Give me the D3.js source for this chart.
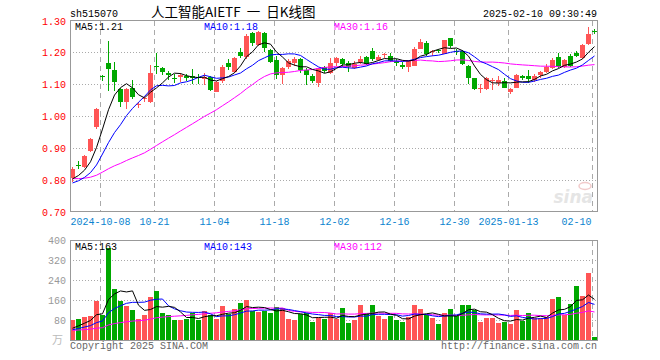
<!DOCTYPE html>
<html>
<head>
<meta charset="utf-8">
<script src="https://cdn.jsdelivr.net/npm/d3@7/dist/d3.min.js"></script>
<style>
body{margin:0;background:#fff;}
text{font-family:"Liberation Mono","DejaVu Sans Mono",monospace;font-size:10px;}
</style>
</head>
<body>
<div id="chart"></div>
<script>
////////////////////////////////////////
// data
////////////////////////////////////////

var dates = [
'2024-09-24','2024-09-25','2024-09-26','2024-09-27','2024-09-30',
'2024-10-08','2024-10-09','2024-10-10','2024-10-11','2024-10-14','2024-10-15','2024-10-16','2024-10-17','2024-10-18',
'2024-10-21','2024-10-22','2024-10-23','2024-10-24','2024-10-25','2024-10-28','2024-10-29','2024-10-30','2024-10-31',
'2024-11-01','2024-11-04','2024-11-05','2024-11-06','2024-11-07','2024-11-08','2024-11-11','2024-11-12','2024-11-13',
'2024-11-14','2024-11-15','2024-11-18','2024-11-19','2024-11-20','2024-11-21','2024-11-22','2024-11-25','2024-11-26',
'2024-11-27','2024-11-28','2024-11-29','2024-12-02','2024-12-03','2024-12-04','2024-12-05','2024-12-06','2024-12-09',
'2024-12-10','2024-12-11','2024-12-12','2024-12-13','2024-12-16','2024-12-17','2024-12-18','2024-12-19','2024-12-20',
'2024-12-23','2024-12-24','2024-12-25','2024-12-26','2024-12-27','2024-12-30','2024-12-31','2025-01-02','2025-01-03',
'2025-01-06','2025-01-07','2025-01-08','2025-01-09','2025-01-10','2025-01-13','2025-01-14','2025-01-15','2025-01-16',
'2025-01-17','2025-01-20','2025-01-21','2025-01-22','2025-01-23','2025-01-24','2025-01-27','2025-02-05','2025-02-06',
'2025-02-07','2025-02-10'];

var open = [0.808,0.846,0.840,0.890,0.967,1.127,1.166,1.146,1.084,1.046,1.090,1.034,1.053,1.046,
1.157,1.152,1.135,1.120,1.123,1.125,1.126,1.122,1.118,1.123,1.077,1.110,1.166,1.139,1.202,1.185,
1.261,1.223,1.261,1.207,1.176,1.128,1.154,1.168,1.180,1.144,1.126,1.105,1.154,1.136,1.168,1.180,
1.168,1.152,1.170,1.186,1.203,1.175,1.192,1.189,1.172,1.160,1.154,1.159,1.212,1.230,1.203,1.207,
1.196,1.244,1.203,1.204,1.159,1.120,1.085,1.084,1.111,1.104,1.110,1.077,1.090,1.127,1.127,1.113,
1.128,1.140,1.152,1.185,1.153,1.189,1.198,1.181,1.226,1.267];
var high = [0.840,0.861,0.880,0.933,1.026,1.128,1.237,1.170,1.090,1.088,1.115,1.045,1.064,1.160,
1.199,1.153,1.143,1.133,1.137,1.131,1.148,1.131,1.134,1.126,1.110,1.162,1.178,1.187,1.215,1.258,
1.265,1.268,1.263,1.211,1.189,1.153,1.178,1.186,1.183,1.152,1.133,1.152,1.158,1.181,1.185,1.181,
1.173,1.173,1.188,1.189,1.214,1.193,1.198,1.198,1.179,1.170,1.176,1.216,1.241,1.235,1.209,1.212,
1.240,1.246,1.212,1.209,1.162,1.121,1.100,1.123,1.121,1.125,1.120,1.089,1.131,1.130,1.145,1.132,
1.143,1.163,1.182,1.198,1.180,1.196,1.203,1.225,1.281,1.272];
var low = [0.795,0.835,0.838,0.887,0.959,1.112,1.079,1.080,1.030,1.022,1.053,1.025,1.044,1.043,
1.131,1.130,1.113,1.105,1.108,1.110,1.100,1.102,1.098,1.079,1.075,1.105,1.144,1.137,1.183,1.180,
1.220,1.220,1.202,1.168,1.116,1.100,1.148,1.157,1.134,1.098,1.105,1.092,1.135,1.131,1.157,1.155,
1.139,1.149,1.163,1.162,1.172,1.174,1.182,1.171,1.159,1.148,1.139,1.157,1.210,1.189,1.190,1.198,
1.194,1.215,1.192,1.160,1.102,1.081,1.074,1.082,1.081,1.095,1.087,1.069,1.088,1.115,1.104,1.106,
1.120,1.135,1.148,1.151,1.150,1.155,1.185,1.178,1.222,1.259];
var close = [0.836,0.844,0.876,0.930,1.024,1.125,1.147,1.106,1.046,1.086,1.061,1.038,1.057,1.134,
1.154,1.140,1.129,1.118,1.128,1.121,1.119,1.120,1.124,1.082,1.108,1.154,1.154,1.183,1.190,1.252,
1.230,1.265,1.213,1.170,1.128,1.152,1.173,1.178,1.144,1.128,1.110,1.150,1.141,1.168,1.181,1.163,
1.154,1.165,1.180,1.163,1.180,1.186,1.195,1.173,1.168,1.154,1.175,1.212,1.232,1.194,1.205,1.205,
1.238,1.220,1.201,1.164,1.119,1.084,1.087,1.119,1.115,1.115,1.090,1.084,1.129,1.121,1.118,1.125,
1.138,1.155,1.175,1.154,1.176,1.157,1.188,1.223,1.258,1.265];
var vol = [80,84,92,96,156,99,371,204,156,136,120,84,100,172,
196,108,100,80,80,84,108,80,116,100,84,136,104,124,148,160,
116,112,116,108,132,128,84,80,104,108,72,88,84,108,85,128,
68,80,140,104,140,96,84,96,80,72,92,140,124,100,88,64,
108,124,96,140,140,120,72,88,88,68,72,64,120,76,108,88,
88,92,164,172,100,144,216,176,268,12];

// closes and volumes of the days before the window, for the moving averages
var prevClose = [0.842,0.838,0.835,0.840,0.833,0.826,0.829,0.821,0.815,0.818,0.810,0.806,0.802,0.797,
0.794,0.790,0.786,0.781,0.784,0.779,0.775,0.772,0.778,0.785,0.782,0.790,0.793,0.798,0.801];
var prevVol = [45,42,40,44,38,36,41,39,35,37,40,38,36,34,33,37,35,32,34,36,33,35,38,36,34,37,39,41,40];

var priceTicks = [0.70,0.80,0.90,1.00,1.10,1.20,1.30];
var volTicks = [80,160,240,320,400];
var xTickDates = ['2024-10-08','2024-10-21','2024-11-04','2024-11-18','2024-12-02','2024-12-16','2024-12-30','2025-01-13','2025-02-10'];
var xTickLabels = ['2024-10-08','10-21','11-04','11-18','12-02','12-16','12-30','2025-01-13','02-10'];

////////////////////////////////////////
// setup
////////////////////////////////////////

var W = 660, H = 360;
var RED = '#ff5555', GREEN = '#00a800';

var svg = d3.select('#chart').append('svg')
	.attr('width',W)
	.attr('height',H);

var x = d3.scaleBand().domain(dates).range([70,598]);
var y = d3.scaleLinear().domain([0.7,1.3]).range([212,20.5]);
var yv = d3.scaleLinear().domain([0,400]).range([340,240.5]);

function cx(d){ return x(d)+2.5; }

function movingAvg(prev, cur, n){
	var all = prev.concat(cur);
	var off = prev.length;
	return cur.map(function(v,i){
		var s = 0;
		for(var k=i+off-n+1;k<=i+off;k++) s += all[k];
		return s/n;
	});
}

var ma5 = movingAvg(prevClose,close,5);
var ma10 = movingAvg(prevClose,close,10);
var ma30 = movingAvg(prevClose,close,30);
var vma5 = movingAvg(prevVol,vol,5);
var vma10 = movingAvg(prevVol,vol,10);
var vma30 = movingAvg(prevVol,vol,30);

////////////////////////////////////////
// grid
////////////////////////////////////////

var grid = svg.append('g').attr('shape-rendering','crispEdges');

grid.selectAll('.hgrid').data(priceTicks.slice(1,-1)).enter().append('line')
	.attr('x1',70).attr('x2',597)
	.attr('y1',function(d){ return Math.round(y(d))+0.5; })
	.attr('y2',function(d){ return Math.round(y(d))+0.5; })
	.attr('stroke','#aaa')
	.attr('stroke-dasharray','1,2');

grid.selectAll('.vhgrid').data(volTicks.slice(0,-1)).enter().append('line')
	.attr('x1',70).attr('x2',597)
	.attr('y1',function(d){ return Math.round(yv(d))+0.5; })
	.attr('y2',function(d){ return Math.round(yv(d))+0.5; })
	.attr('stroke','#aaa')
	.attr('stroke-dasharray','1,2');

xTickDates.forEach(function(d){
	var px = x(d)+0.5;
	grid.append('line')
		.attr('x1',px).attr('x2',px).attr('y1',21).attr('y2',211)
		.attr('stroke','#aaa').attr('stroke-dasharray','5,4');
	grid.append('line')
		.attr('x1',px).attr('x2',px).attr('y1',241).attr('y2',340)
		.attr('stroke','#aaa').attr('stroke-dasharray','5,4');
});

// watermark
var wm = svg.append('g').attr('opacity',0.25);
wm.append('text')
	.attr('x',593).attr('y',203)
	.attr('text-anchor','end')
	.style('font-family','"DejaVu Sans",sans-serif')
	.style('font-size','17px')
	.style('font-weight','bold')
	.style('font-style','italic')
	.attr('fill','#999')
	.text('sina');
wm.append('ellipse')
	.attr('cx',585).attr('cy',186).attr('rx',6).attr('ry',3.5)
	.attr('fill','none').attr('stroke','#c33').attr('stroke-width',1.5);

////////////////////////////////////////
// candles and volume bars
////////////////////////////////////////

var idx = d3.range(dates.length);
var candles = svg.append('g').attr('shape-rendering','crispEdges');

candles.selectAll('.wick').data(idx).enter().append('line')
	.attr('x1',function(i){ return x(dates[i])+2.5; })
	.attr('x2',function(i){ return x(dates[i])+2.5; })
	.attr('y1',function(i){ return y(high[i]); })
	.attr('y2',function(i){ return y(low[i]); })
	.attr('stroke',function(i){ return close[i]>open[i] ? RED : GREEN; });

candles.selectAll('.body').data(idx).enter().append('rect')
	.attr('x',function(i){ return x(dates[i]); })
	.attr('width',5)
	.attr('y',function(i){ return y(Math.max(open[i],close[i])); })
	.attr('height',function(i){ return Math.max(1,Math.abs(y(open[i])-y(close[i]))); })
	.attr('fill',function(i){ return close[i]>open[i] ? RED : GREEN; });

candles.selectAll('.vbar').data(idx).enter().append('rect')
	.attr('x',function(i){ return x(dates[i]); })
	.attr('width',5)
	.attr('y',function(i){ return yv(vol[i]); })
	.attr('height',function(i){ return 340-yv(vol[i]); })
	.attr('fill',function(i){ return close[i]>open[i] ? RED : GREEN; });

////////////////////////////////////////
// moving averages
////////////////////////////////////////

function drawLine(vals, scale, color){
	var line = d3.line()
		.x(function(v,i){ return cx(dates[i]); })
		.y(function(v){ return scale(v); });
	svg.append('path')
		.attr('d',line(vals))
		.attr('fill','none')
		.attr('stroke',color)
		.attr('stroke-width',1);
}

drawLine(ma30,y,'#ff00ff');
drawLine(ma10,y,'#0000ff');
drawLine(ma5,y,'#000000');
drawLine(vma30,yv,'#ff00ff');
drawLine(vma10,yv,'#0000ff');
drawLine(vma5,yv,'#000000');

////////////////////////////////////////
// frames
////////////////////////////////////////

svg.append('rect')
	.attr('x',70.5).attr('y',20.5).attr('width',527).attr('height',191)
	.attr('fill','none').attr('stroke','#999').attr('shape-rendering','crispEdges');
svg.append('rect')
	.attr('x',70.5).attr('y',240.5).attr('width',527).attr('height',100)
	.attr('fill','none').attr('stroke','#999').attr('shape-rendering','crispEdges');

////////////////////////////////////////
// texts
////////////////////////////////////////

svg.selectAll('.plab').data(priceTicks).enter().append('text')
	.attr('x',66).attr('y',function(d){ return y(d)+4; })
	.attr('text-anchor','end')
	.attr('fill','#ff0000')
	.text(function(d){ return d.toFixed(2); });

svg.selectAll('.vlab').data(volTicks).enter().append('text')
	.attr('x',66).attr('y',function(d){ return yv(d)+3.5; })
	.attr('text-anchor','end')
	.attr('fill','#999')
	.text(function(d){ return d; });

svg.append('text')
	.attr('x',63).attr('y',344)
	.attr('text-anchor','end')
	.attr('fill','#bbb')
	.style('font-family','"Noto Sans CJK SC",sans-serif')
	.style('font-size','11px')
	.text('万');

xTickDates.forEach(function(d,k){
	var last = k==xTickDates.length-1;
	svg.append('text')
		.attr('x',last ? 591.5 : x(d)+0.5)
		.attr('y',225)
		.attr('text-anchor',last ? 'end' : 'middle')
		.attr('fill','#0a84d0')
		.text(xTickLabels[k]);
});

svg.append('text').attr('x',70).attr('y',16.5).attr('fill','#000').text('sh515070');
svg.append('text').attr('x',151).attr('y',17)
	.style('font-family','"Noto Sans CJK SC",sans-serif')
	.style('font-size','13.5px')
	.style('white-space','pre')
	.attr('fill','#000')
	.text('人工智能AIETF  一  日K线图');
svg.append('text').attr('x',597).attr('y',16.5).attr('text-anchor','end').attr('fill','#000')
	.text('2025-02-10 09:30:49');

function fmt2(v){ return (Math.floor(v*100)/100).toFixed(2); }
var last = dates.length-1;

svg.append('text').attr('x',75).attr('y',29.5).attr('fill','#000').text('MA5:'+fmt2(ma5[last]));
svg.append('text').attr('x',204).attr('y',29.5).attr('fill','#0000ff').text('MA10:'+fmt2(ma10[last]));
svg.append('text').attr('x',334).attr('y',29.5).attr('fill','#ff00ff').text('MA30:'+fmt2(ma30[last]));

svg.append('text').attr('x',75).attr('y',250).attr('fill','#000').text('MA5:'+Math.floor(vma5[last]));
svg.append('text').attr('x',204).attr('y',250).attr('fill','#0000ff').text('MA10:'+Math.floor(vma10[last]));
svg.append('text').attr('x',334).attr('y',250).attr('fill','#ff00ff').text('MA30:'+Math.floor(vma30[last]));

svg.append('text').attr('x',70).attr('y',349).attr('fill','#666').text('Copyright 2025 SINA.COM');
svg.append('text').attr('x',597).attr('y',349).attr('text-anchor','end').attr('fill','#666').text('http://finance.sina.com.cn');
</script>
</body>
</html>
